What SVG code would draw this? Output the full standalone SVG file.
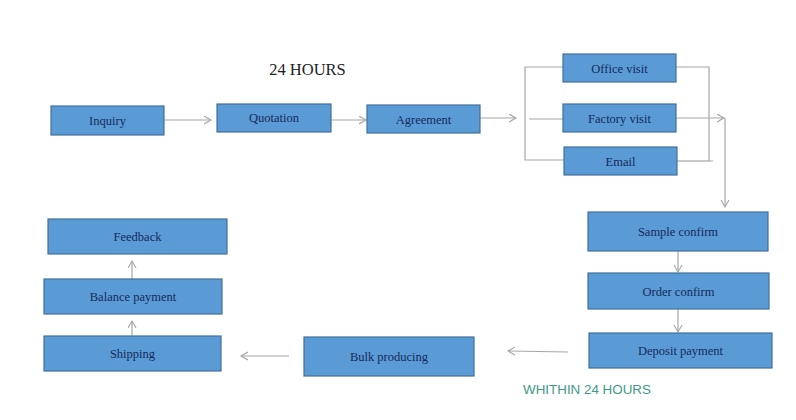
<svg xmlns="http://www.w3.org/2000/svg" width="796" height="420" viewBox="0 0 796 420">
<style>
.box{fill:#5b9bd5;stroke:#41719c;stroke-width:1.2}
.lbl{font-family:"Liberation Serif",serif;font-size:12.5px;fill:#142a5a;text-anchor:middle}
.ln{fill:none;stroke:#a6a6a6;stroke-width:1.2}
</style>
<defs>
<marker id="ah" markerUnits="userSpaceOnUse" markerWidth="12" markerHeight="12" refX="7" refY="4.5" orient="auto">
<path d="M0,0.5 L7,4.5 L0,8.5" fill="none" stroke="#a6a6a6" stroke-width="1.1"/>
</marker>
</defs>
<rect width="796" height="420" fill="#ffffff"/>
<text x="307.5" y="75" font-family="Liberation Serif,serif" font-size="16.5" fill="#222" text-anchor="middle">24 HOURS</text>
<text x="523" y="394" font-family="Liberation Sans,sans-serif" font-size="13.4" fill="#3e9a88">WHITHIN 24 HOURS</text>
<g id="connectors">
<line class="ln" x1="164" y1="120" x2="211" y2="120" marker-end="url(#ah)"/>
<line class="ln" x1="331" y1="120" x2="366" y2="120" marker-end="url(#ah)"/>
<line class="ln" x1="480" y1="118" x2="516" y2="118" marker-end="url(#ah)"/>
<polyline class="ln" points="563,67 525,67 525,160 564,160"/>
<line class="ln" x1="529" y1="119" x2="563" y2="119"/>
<polyline class="ln" points="676,67 709,67 709,161 713,161"/>
<line class="ln" x1="677" y1="161" x2="709" y2="161"/>
<line class="ln" x1="676" y1="118" x2="724" y2="118" marker-end="url(#ah)"/>
<line class="ln" x1="725" y1="118" x2="725" y2="207" marker-end="url(#ah)"/>
<line class="ln" x1="678" y1="251" x2="678" y2="272" marker-end="url(#ah)"/>
<line class="ln" x1="678" y1="309" x2="678" y2="332" marker-end="url(#ah)"/>
<line class="ln" x1="568" y1="352" x2="508" y2="351" marker-end="url(#ah)"/>
<line class="ln" x1="289" y1="356" x2="241" y2="356" marker-end="url(#ah)"/>
<line class="ln" x1="132" y1="336" x2="132" y2="321" marker-end="url(#ah)"/>
<line class="ln" x1="132" y1="279" x2="132" y2="261" marker-end="url(#ah)"/>
</g>
<g id="inquiry"><rect class="box" x="51" y="106" width="113" height="29"/><text class="lbl" x="107.5" y="124.5">Inquiry</text></g>
<g id="quotation"><rect class="box" x="217" y="104" width="114" height="28"/><text class="lbl" x="274" y="122">Quotation</text></g>
<g id="agreement"><rect class="box" x="367" y="105" width="113" height="28"/><text class="lbl" x="423.5" y="123.5">Agreement</text></g>
<g id="office-visit"><rect class="box" x="563" y="54" width="113" height="28"/><text class="lbl" x="619.5" y="72.5">Office visit</text></g>
<g id="factory-visit"><rect class="box" x="563" y="104" width="113" height="28"/><text class="lbl" x="619.5" y="122.5">Factory visit</text></g>
<g id="email"><rect class="box" x="564" y="147" width="113" height="28"/><text class="lbl" x="620.5" y="165.5">Email</text></g>
<g id="sample-confirm"><rect class="box" x="588" y="212" width="180" height="39"/><text class="lbl" x="678" y="236">Sample confirm</text></g>
<g id="order-confirm"><rect class="box" x="588" y="273" width="181" height="36"/><text class="lbl" x="678.5" y="296">Order confirm</text></g>
<g id="deposit-payment"><rect class="box" x="589" y="333" width="183" height="35"/><text class="lbl" x="680.5" y="355">Deposit payment</text></g>
<g id="bulk-producing"><rect class="box" x="304" y="337" width="170" height="39"/><text class="lbl" x="389" y="360.5">Bulk producing</text></g>
<g id="shipping"><rect class="box" x="44" y="336" width="177" height="35"/><text class="lbl" x="132.5" y="358">Shipping</text></g>
<g id="balance-payment"><rect class="box" x="44" y="279" width="178" height="35"/><text class="lbl" x="133" y="301">Balance payment</text></g>
<g id="feedback"><rect class="box" x="48" y="219" width="179" height="35"/><text class="lbl" x="137.5" y="241">Feedback</text></g>
</svg>
